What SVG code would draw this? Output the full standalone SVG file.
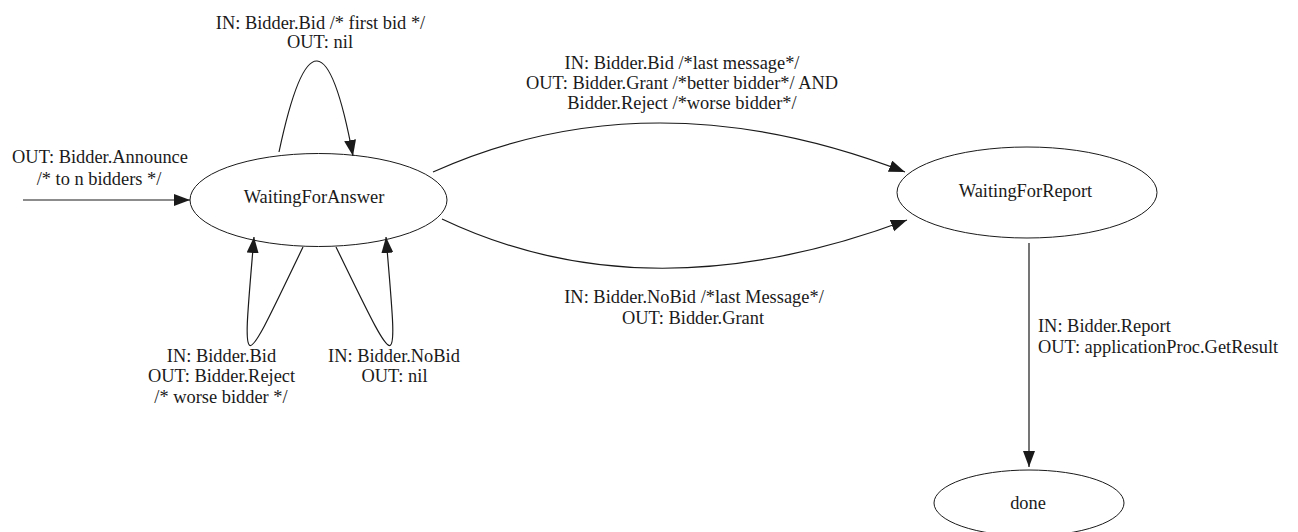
<svg xmlns="http://www.w3.org/2000/svg" width="1298" height="532" viewBox="0 0 1298 532">
<style>
  text { font-family: "Liberation Serif", "Times New Roman", serif; font-size: 18.4px; fill: #1a1a1a; }
  .c { text-anchor: middle; }
  .node ellipse { fill: none; stroke: #1a1a1a; stroke-width: 1; }
  .edge { fill: none; stroke: #1a1a1a; stroke-width: 1.2; marker-end: url(#arrow); }
</style>
<defs>
  <marker id="arrow" markerUnits="userSpaceOnUse" markerWidth="17" markerHeight="13" refX="16" refY="6" orient="auto">
    <path d="M0,0 L16,6 L0,12 z" fill="#1a1a1a"/>
  </marker>
</defs>
<rect width="1298" height="532" fill="#ffffff"/>

<g id="connectors">
  <path id="e-start" class="edge" d="M23,200 L190,200"/>
  <path id="e-loop-top" class="edge" d="M279,152 Q318,-32 353,156"/>
  <path id="e-loop-bid" class="edge" d="M303,247 C239,380 242,380 254,237"/>
  <path id="e-loop-nobid" class="edge" d="M336,247 C401,380 398,380 386,237"/>
  <path id="e-last-bid" class="edge" d="M433,172 Q651,74 905,172"/>
  <path id="e-last-nobid" class="edge" d="M442,219 Q648,317 907,220"/>
  <path id="e-report" class="edge" d="M1029,243 L1029,467"/>
</g>

<g id="labels">
  <text class="c" x="100" y="163">OUT: Bidder.Announce</text>
  <text class="c" x="99" y="185">/* to n bidders */</text>
  <text class="c" x="320.5" y="29">IN: Bidder.Bid /* first bid */</text>
  <text class="c" x="320" y="48">OUT: nil</text>
  <text class="c" x="221.5" y="362">IN: Bidder.Bid</text>
  <text class="c" x="221.5" y="382">OUT: Bidder.Reject</text>
  <text class="c" x="221" y="403">/* worse bidder */</text>
  <text class="c" x="394" y="362">IN: Bidder.NoBid</text>
  <text class="c" x="394.5" y="382">OUT: nil</text>
  <text class="c" x="682" y="69">IN: Bidder.Bid /*last message*/</text>
  <text class="c" x="682" y="89">OUT: Bidder.Grant /*better bidder*/ AND</text>
  <text class="c" x="682" y="109">Bidder.Reject /*worse bidder*/</text>
  <text class="c" x="694" y="303">IN: Bidder.NoBid /*last Message*/</text>
  <text class="c" x="693" y="324">OUT: Bidder.Grant</text>
  <text x="1038" y="332">IN: Bidder.Report</text>
  <text x="1038" y="353">OUT: applicationProc.GetResult</text>
</g>

<g id="node-WaitingForAnswer" class="node">
  <ellipse cx="318.5" cy="200" rx="128.5" ry="46.5"/>
  <text class="c" x="314" y="203">WaitingForAnswer</text>
</g>
<g id="node-WaitingForReport" class="node">
  <ellipse cx="1027" cy="192.5" rx="130" ry="45.5"/>
  <text class="c" x="1025.5" y="197">WaitingForReport</text>
</g>
<g id="node-done" class="node">
  <ellipse cx="1029" cy="503" rx="95" ry="33"/>
  <text class="c" x="1028" y="509">done</text>
</g>
</svg>
